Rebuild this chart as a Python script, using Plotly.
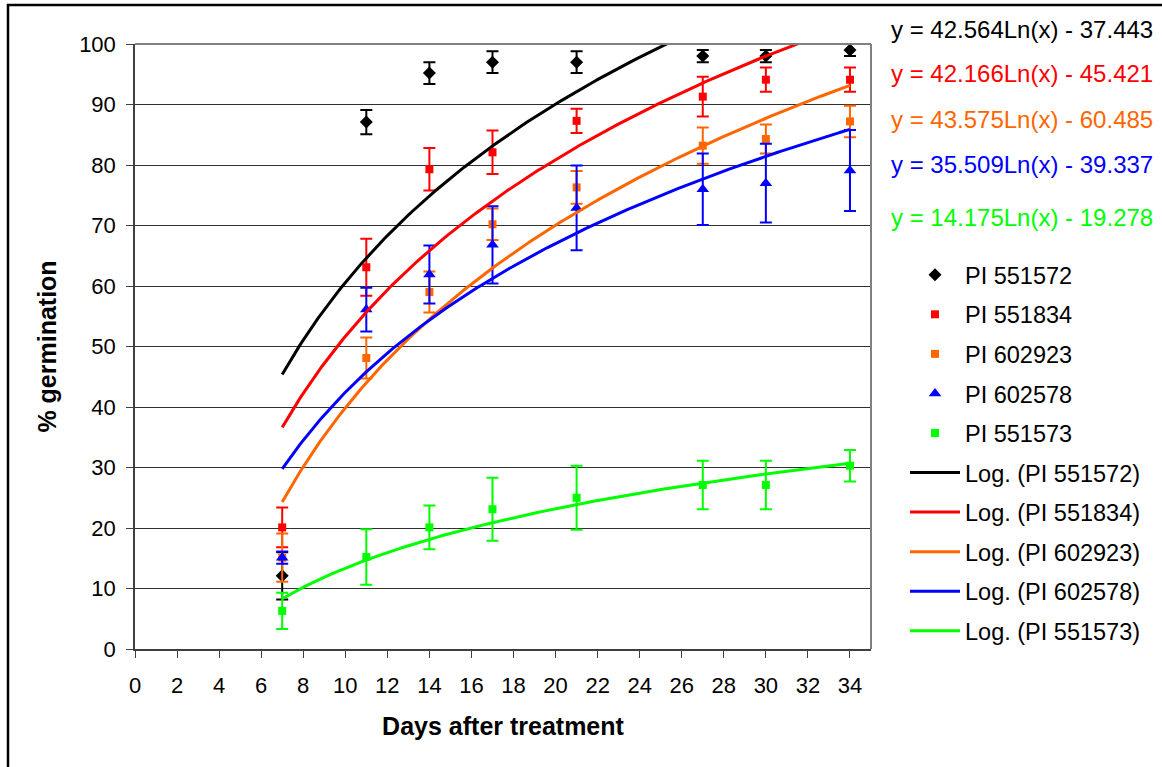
import numpy as np
import plotly.graph_objects as go

# ---- data ----
days = [7, 11, 14, 17, 21, 27, 30, 34]
series_names = ["PI 551572", "PI 551834", "PI 602923", "PI 602578", "PI 551573"]
pi_551572 = [12.1, 87.1, 95.2, 97.0, 97.0, 98.0, 98.0, 99.0]
pi_551834 = [20.1, 63.1, 79.3, 82.1, 87.3, 91.3, 94.1, 94.1]
pi_602923 = [15.1, 48.1, 59.0, 70.2, 76.3, 83.2, 84.3, 87.2]
pi_602578 = [15.1, 56.1, 61.9, 66.8, 72.9, 76.0, 77.0, 79.1]
pi_551573 = [6.3, 15.2, 20.1, 23.1, 25.0, 27.1, 27.1, 30.3]
err_551572 = [3.9, 2.0, 1.8, 1.8, 1.8, 1.0, 1.0, 1.0]
err_551834 = [3.3, 4.7, 3.5, 3.6, 2.0, 3.3, 2.0, 2.0]
err_602923 = [4.0, 3.4, 3.4, 2.6, 2.7, 3.0, 2.4, 2.6]
err_602578 = [1.0, 3.6, 4.8, 6.4, 7.0, 5.9, 6.5, 6.7]
err_551573 = [3.0, 4.6, 3.6, 5.2, 5.3, 4.0, 4.0, 2.6]
# logarithmic trendline coefficients y = a*Ln(x) + b (as printed on the chart)
trend_a = [42.564, 42.166, 43.575, 35.509, 14.175]
trend_b = [-37.443, -45.421, -60.485, -39.337, -19.278]
equations = ["y = 42.564Ln(x) - 37.443", "y = 42.166Ln(x) - 45.421",
             "y = 43.575Ln(x) - 60.485", "y = 35.509Ln(x) - 39.337",
             "y = 14.175Ln(x) - 19.278"]
x_ticks = list(range(0, 35, 2))
y_ticks = list(range(0, 101, 10))

values = [pi_551572, pi_551834, pi_602923, pi_602578, pi_551573]
errors = [err_551572, err_551834, err_602923, err_602578, err_551573]
colors = ["#000000", "#FF0000", "#FF6600", "#0000FF", "#00FF00"]
symbols = ["diamond", "square", "square", "triangle-up", "square"]
sizes = [10, 8, 8, 11, 8]

FONT = "Liberation Sans, Arial, sans-serif"
fig = go.Figure()

for i, name in enumerate(series_names):
    fig.add_trace(go.Scatter(
        x=days, y=values[i], mode="markers", name=name,
        legendgroup=f"m{i}",
        marker=dict(color=colors[i], symbol=symbols[i], size=sizes[i], line=dict(width=0)),
        error_y=dict(type="data", array=errors[i], visible=True,
                     color=colors[i], thickness=2, width=6),
        cliponaxis=False,
    ))

x_fit = np.linspace(min(days), max(days), 300)
for i, name in enumerate(series_names):
    fig.add_trace(go.Scatter(
        x=x_fit, y=trend_a[i] * np.log(x_fit) + trend_b[i], mode="lines",
        name=f"Log. ({name})", legendgroup=f"l{i}",
        line=dict(color=colors[i], width=3),
    ))

L, R, T, B = 135, 291, 44, 118
W, H = 1162, 767
pw, ph = W - L - R, H - T - B

def px_x(p):
    return (p - L) / pw

def px_y(p):
    return (H - B - p) / ph

eq_y = [29, 74, 120, 165, 217]
annotations = []
for i, eq in enumerate(equations):
    annotations.append(dict(
        x=px_x(889), y=px_y(eq_y[i]), xref="paper", yref="paper",
        text=eq, showarrow=False, xanchor="left", yanchor="middle",
        font=dict(family=FONT, size=24, color=colors[i]),
    ))

shapes = [
    # outer chart border (left & top visible)
    dict(type="rect", xref="paper", yref="paper",
         x0=px_x(8), x1=px_x(1175), y0=px_y(780), y1=px_y(5),
         line=dict(color="#000000", width=2.5), layer="above"),
    # plot area top and right border
    dict(type="line", xref="paper", yref="paper", x0=0, x1=1, y0=1, y1=1,
         line=dict(color="#808080", width=2)),
    dict(type="line", xref="paper", yref="paper", x0=1, x1=1, y0=0, y1=1,
         line=dict(color="#808080", width=2)),
]

fig.update_layout(
    width=W, height=H,
    margin=dict(l=L, r=R, t=T, b=B, pad=0),
    paper_bgcolor="white", plot_bgcolor="white",
    font=dict(family=FONT, size=22, color="black"),
    showlegend=True,
    legend=dict(
        x=px_x(905), y=px_y(253), xanchor="left", yanchor="top",
        font=dict(family=FONT, size=23.5, color="black"),
        itemwidth=50, tracegroupgap=6, bgcolor="rgba(0,0,0,0)",
        traceorder="grouped",
    ),
    annotations=annotations,
    shapes=shapes,
    xaxis=dict(
        range=[0, 35], tickvals=x_ticks, ticks="outside", ticklen=7,
        tickcolor="#404040", showline=True, linecolor="#404040", linewidth=1.5,
        showgrid=False, zeroline=False, ticklabelstandoff=9,
        tickfont=dict(family=FONT, size=22),
        title=dict(text="<b>Days after treatment</b>", standoff=20,
                   font=dict(family=FONT, size=25)),
    ),
    yaxis=dict(
        range=[0, 100], tickvals=y_ticks, ticks="outside", ticklen=7,
        tickcolor="#404040", showline=True, linecolor="#404040", linewidth=1.5,
        showgrid=True, gridcolor="#303030", gridwidth=1, zeroline=False,
        ticklabelstandoff=6,
        tickfont=dict(family=FONT, size=22),
        title=dict(text="<b>% germination</b>", standoff=15,
                   font=dict(family=FONT, size=25)),
    ),
)

fig.write_html("out.html", config={"displayModeBar": False},
               post_script="document.body.style.margin='0px';")
